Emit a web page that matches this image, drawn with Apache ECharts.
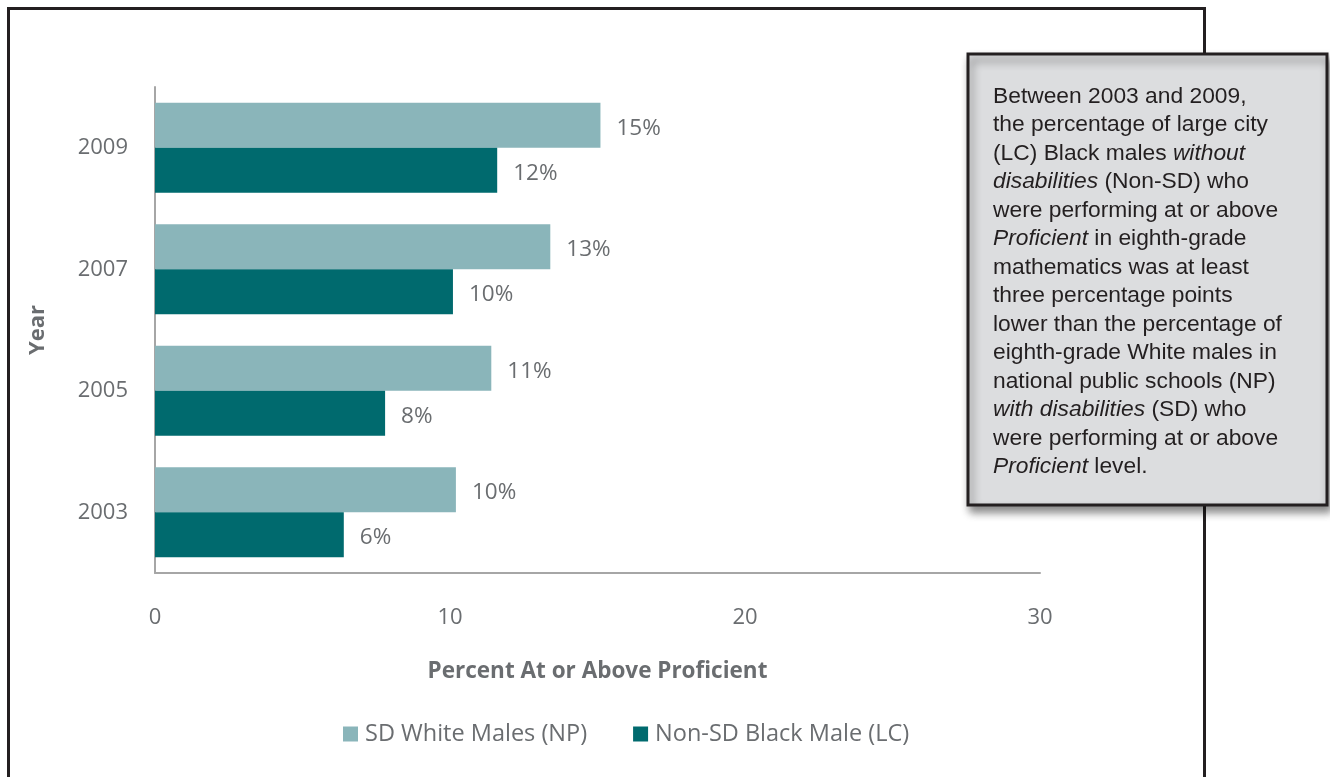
<!DOCTYPE html>
<html>
<head>
<meta charset="utf-8">
<script src="https://cdn.jsdelivr.net/npm/echarts@6/dist/echarts.min.js"></script>
<style>
html,body{margin:0;padding:0;background:#fff;}
#chart{width:1330px;height:777px;}
</style>
</head>
<body>
<div id="chart"></div>
<script>
const years = ['2003', '2005', '2007', '2009'];
const sdWhiteNP = [10.2, 11.4, 13.4, 15.1];
const nonSdBlackLC = [6.4, 7.8, 10.1, 11.6];
const seriesNames = ['SD White Males (NP)', 'Non-SD Black Male (LC)'];
const xTicks = [0, 10, 20, 30];
const noteLines = [
  [['n', 'Between 2003 and 2009,']],
  [['n', 'the percentage of large city']],
  [['n', '(LC) Black males '], ['i', 'without']],
  [['i', 'disabilities'], ['n', ' (Non-SD) who']],
  [['n', 'were performing at or above']],
  [['i', 'Proficient'], ['n', ' in eighth-grade']],
  [['n', 'mathematics was at least']],
  [['n', 'three percentage points']],
  [['n', 'lower than the percentage of']],
  [['n', 'eighth-grade White males in']],
  [['n', 'national public schools (NP)']],
  [['i', 'with disabilities'], ['n', ' (SD) who']],
  [['n', 'were performing at or above']],
  [['i', 'Proficient'], ['n', ' level.']]
];

const txt = '#6a6d70';
const font = 'Open Sans';
const chart = echarts.init(document.getElementById('chart'), null, {renderer: 'canvas'});

const noteText = noteLines.map(l => l.map(([s, t]) => '{' + s + '|' + t + '}').join('')).join('\n');

chart.setOption({
  backgroundColor: '#fff',
  animation: false,
  grid: {left: 155, right: 290, top: 87, bottom: 204, containLabel: false},
  legend: {
    data: seriesNames,
    left: 338, top: 717,
    itemWidth: 15, itemHeight: 15, itemGap: 46,
    icon: 'rect',
    textStyle: {fontFamily: font, fontSize: 23.5, color: txt, padding: [0, 0, 0, 2]}
  },
  xAxis: {
    type: 'value', min: 0, max: 30, interval: 10,
    name: 'Percent At or Above Proficient',
    nameLocation: 'middle', nameGap: 87,
    nameTextStyle: {fontFamily: font, fontSize: 22.5, fontWeight: 'bold', color: txt},
    axisLine: {show: true, lineStyle: {color: '#a6a6a6', width: 2}},
    axisTick: {show: false},
    splitLine: {show: false},
    axisLabel: {fontFamily: font, fontSize: 22, color: txt, margin: 34,
      formatter: v => xTicks.includes(v) ? String(v) : ''}
  },
  yAxis: {
    type: 'category', data: years,
    name: 'Year', nameLocation: 'middle', nameGap: 106, nameRotate: 90,
    nameTextStyle: {fontFamily: font, fontSize: 22, fontWeight: 'bold', color: txt},
    axisLine: {show: true, lineStyle: {color: '#a6a6a6', width: 2}},
    axisTick: {show: false},
    axisLabel: {fontFamily: font, fontSize: 22, color: txt, margin: 27}
  },
  series: [
    {
      name: seriesNames[0], type: 'bar', data: sdWhiteNP,
      itemStyle: {color: '#8ab5ba'},
      barGap: '0%', barCategoryGap: '26%',
      label: {show: true, position: 'right', distance: 16, offset: [0, 3], fontFamily: font, fontSize: 22.5, color: txt,
        formatter: p => Math.round(p.value) + '%'}
    },
    {
      name: seriesNames[1], type: 'bar', data: nonSdBlackLC,
      itemStyle: {color: '#006a6e'},
      barGap: '0%', barCategoryGap: '26%',
      label: {show: true, position: 'right', distance: 16, offset: [0, 3], fontFamily: font, fontSize: 22.5, color: txt,
        formatter: p => Math.round(p.value) + '%'}
    }
  ],
  graphic: [
    {type: 'rect', z: 0, silent: true,
      shape: {x: 8.5, y: 8.5, width: 1196, height: 800},
      style: {fill: 'none', stroke: '#231f20', lineWidth: 3}},
    {type: 'rect', z: 10, silent: true,
      shape: {x: 968, y: 54, width: 359, height: 451},
      style: {fill: '#dcdddf', stroke: '#231f20', lineWidth: 3,
        shadowColor: 'rgba(0,0,0,0.45)', shadowBlur: 8, shadowOffsetX: 3, shadowOffsetY: 6}},
    {type: 'text', z: 11, silent: true, left: 993, top: 82,
      style: {text: noteText, font: '23px "Liberation Sans"', fill: '#231f20',
        lineHeight: 28.5,
        rich: {
          n: {fontFamily: 'Liberation Sans', fontSize: 22.8, lineHeight: 28.5, fill: '#231f20'},
          i: {fontFamily: 'Liberation Sans', fontSize: 22.8, fontStyle: 'italic', lineHeight: 28.5, fill: '#231f20'}
        }}}
  ]
});
</script>
</body>
</html>
